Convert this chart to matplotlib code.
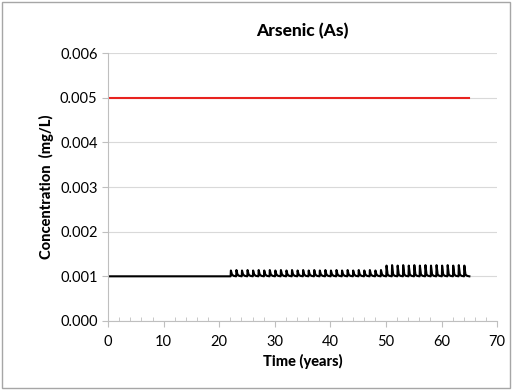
import matplotlib.pyplot as plt
from matplotlib.patches import Rectangle
from matplotlib.ticker import MultipleLocator, FormatStrFormatter

plt.rcParams['font.family'] = ['Lato', 'DejaVu Sans']

# standard (MCL) line
mcl_years = [0, 65]
mcl_values = [0.005, 0.005]

# baseline concentration and annual peak values
baseline = 0.001
flat_end = 22
peak_years = list(range(22, 65))
peak_values = [0.00113, 0.00114, 0.00113, 0.00114, 0.00113, 0.00114, 0.00113,
               0.00114, 0.00113, 0.00114, 0.00113, 0.00114, 0.00113, 0.00114,
               0.00113, 0.00114, 0.00113, 0.00114, 0.00113, 0.00114, 0.00113,
               0.00114, 0.00113, 0.00114, 0.00113, 0.00114, 0.00113, 0.00114,
               0.00124, 0.00125, 0.00124, 0.00125, 0.00124, 0.00125, 0.00124,
               0.00125, 0.00124, 0.00125, 0.00124, 0.00125, 0.00124, 0.00125,
               0.00124]

# build the black series: flat, then a sharp rise and quick decay each year
t, c = [0, flat_end], [baseline, baseline]
for yr, pk in zip(peak_years, peak_values):
    t += [yr + 0.05, yr + 0.1, yr + 0.3, yr + 0.6, yr + 1.0]
    c += [baseline, pk, baseline + 0.00004, baseline + 0.00001, baseline]
t.append(65)
c.append(baseline)

fig, ax = plt.subplots(figsize=(5.12, 3.9), dpi=100)
fig.subplots_adjust(left=0.211, right=0.971, top=0.864, bottom=0.177)

ax.plot(mcl_years, mcl_values, color='#e8231f', lw=1.5)
ax.plot(t, c, color='black', lw=1.5)

ax.set_xlim(0, 70)
ax.set_ylim(0, 0.006)
ax.xaxis.set_major_locator(MultipleLocator(10))
ax.xaxis.set_minor_locator(MultipleLocator(2))
ax.yaxis.set_major_locator(MultipleLocator(0.001))
ax.yaxis.set_major_formatter(FormatStrFormatter('%.3f'))
ax.grid(axis='y', color='#d9d9d9', lw=0.8)
ax.set_axisbelow(True)

for s in ['top', 'right']:
    ax.spines[s].set_visible(False)
for s in ['left', 'bottom']:
    ax.spines[s].set_color('#bfbfbf')
ax.tick_params(axis='both', which='major', color='#bfbfbf', length=4,
               labelsize=10.5, colors='#bfbfbf', labelcolor='black')
ax.tick_params(axis='x', which='minor', direction='in', length=3, color='#bfbfbf')
ax.tick_params(axis='x', which='major', pad=6)

ax.set_title('Arsenic (As)', fontsize=12.5, fontweight='black', pad=12)
ax.set_xlabel('Time (years)', fontsize=10.5, fontweight='black')
ax.set_ylabel('Concentration  (mg/L)', fontsize=10.5, fontweight='black')

fig.patches.append(Rectangle((0.004, 0.004), 0.992, 0.992, transform=fig.transFigure,
                             fill=False, edgecolor='#a6a6a6', lw=1))

fig.savefig('out.png', dpi=100)
